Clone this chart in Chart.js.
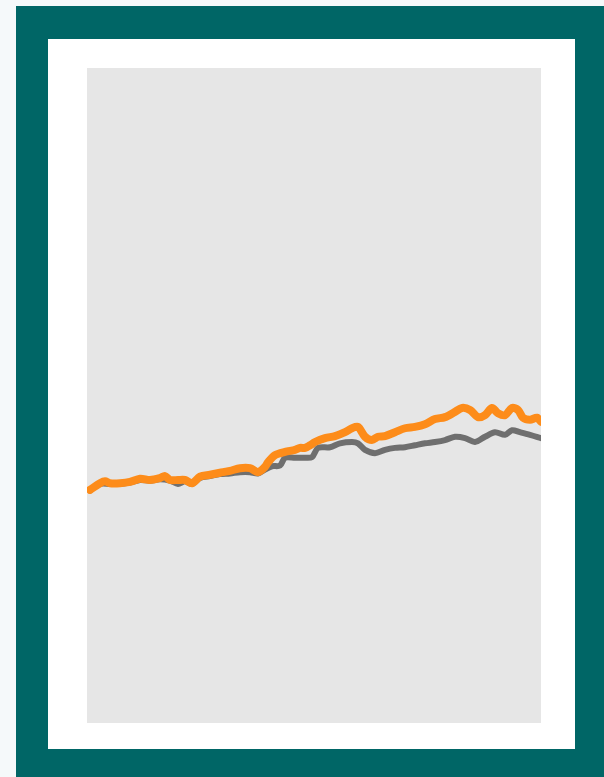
<!DOCTYPE html>
<html>
<head>
<meta charset="utf-8">
<script src="https://cdn.jsdelivr.net/npm/chart.js@4"></script>
<style>
  html, body { margin: 0; padding: 0; background: #f5f9fa; }
  #frame { position: absolute; left: 16px; top: 6px; width: 588px; height: 771px; background: #006666; }
  #panel { position: absolute; left: 48px; top: 39px; width: 527px; height: 710px; background: #ffffff; }
</style>
</head>
<body>
<div id="frame"></div>
<div id="panel"><canvas id="chart1" width="527" height="710"></canvas></div>
<script>
// orange series (week, index level)
const orangeWeeks = [0, 2, 3, 4, 6, 8, 10, 12, 14, 15, 16, 17.6, 19, 20.4, 22, 24, 26, 28, 30, 32, 33.6, 35, 35.6, 37, 39, 41, 42, 43, 44, 45, 47, 49, 51, 52.4, 53.6, 55, 56.4, 57.6, 59, 61, 63, 65, 67, 69, 71, 73, 74.4, 76, 77.6, 79, 80.4, 81.6, 83, 84.4, 85.6, 86.6, 88, 89.4, 90.2];
const orangeValues = [35.6, 36.6, 36.9, 36.6, 36.6, 36.8, 37.3, 37.1, 37.4, 37.7, 37.1, 37.1, 37.1, 36.6, 37.6, 37.9, 38.2, 38.5, 38.9, 38.9, 38.3, 39.1, 39.8, 40.9, 41.4, 41.7, 42.0, 42.0, 42.4, 42.9, 43.5, 43.8, 44.4, 45.0, 45.2, 43.7, 43.2, 43.7, 43.8, 44.4, 45.0, 45.2, 45.6, 46.4, 46.7, 47.5, 48.1, 47.8, 46.7, 47.0, 48.1, 47.3, 47.0, 48.1, 47.8, 46.6, 46.3, 46.6, 46.0];

// grey series
const greyWeeks = [0, 2, 4, 6, 8, 10, 12, 14, 16, 17.6, 19, 20.4, 22, 24, 26, 28, 30, 32, 33.6, 35, 36.4, 38, 39, 41, 43, 44.4, 45.6, 48, 50, 52.4, 53.6, 55, 57, 59, 61, 63, 65, 67, 69, 71, 73, 75, 77, 79, 81, 83, 84.4, 86, 88, 90.2];
const greyValues = [35.5, 36.5, 36.5, 36.5, 36.7, 37.1, 37.0, 37.2, 37.0, 36.5, 36.9, 36.5, 37.4, 37.7, 38.0, 38.1, 38.3, 38.3, 38.1, 38.7, 39.2, 39.3, 40.5, 40.5, 40.5, 40.6, 42.0, 42.1, 42.7, 42.9, 42.7, 41.7, 41.2, 41.7, 42.0, 42.1, 42.4, 42.7, 42.9, 43.2, 43.7, 43.5, 42.9, 43.7, 44.4, 44.0, 44.7, 44.4, 44.0, 43.5];

const toPoints = (xs, ys) => xs.map((x, i) => ({ x: x, y: ys[i] }));

const plotBg = {
  id: 'plotBg',
  beforeDraw(chart) {
    const a = chart.chartArea;
    const c = chart.ctx;
    c.save();
    c.fillStyle = '#e6e6e6';
    c.fillRect(a.left, a.top, a.right - a.left, a.bottom - a.top);
    c.restore();
  }
};

const ctx1 = document.getElementById('chart1');

new Chart(ctx1, {
  type: 'line',
  data: {
    datasets: [{
      label: 'orange',
      data: toPoints(orangeWeeks, orangeValues),
      borderColor: '#fd8c1a',
      borderWidth: 8,
      tension: 0.3,
      pointRadius: 0,
      borderCapStyle: 'round',
      borderJoinStyle: 'round',
      clip: 0,
      order: 0,
    }, {
      label: 'grey',
      data: toPoints(greyWeeks, greyValues),
      borderColor: '#6f6f6f',
      borderWidth: 6,
      tension: 0.3,
      pointRadius: 0,
      borderCapStyle: 'round',
      borderJoinStyle: 'round',
      clip: 0,
      order: 1,
    }],
  },
  options: {
    responsive: false,
    animation: false,
    devicePixelRatio: 1,
    layout: { padding: { left: 39, top: 29, right: 34, bottom: 26 } },
    plugins: { legend: { display: false }, tooltip: { enabled: false } },
    scales: {
      x: { type: 'linear', min: -0.6, max: 90.2, display: false },
      y: { min: 0, max: 100, display: false },
    },
  },
  plugins: [plotBg],
});
</script>
</body>
</html>
